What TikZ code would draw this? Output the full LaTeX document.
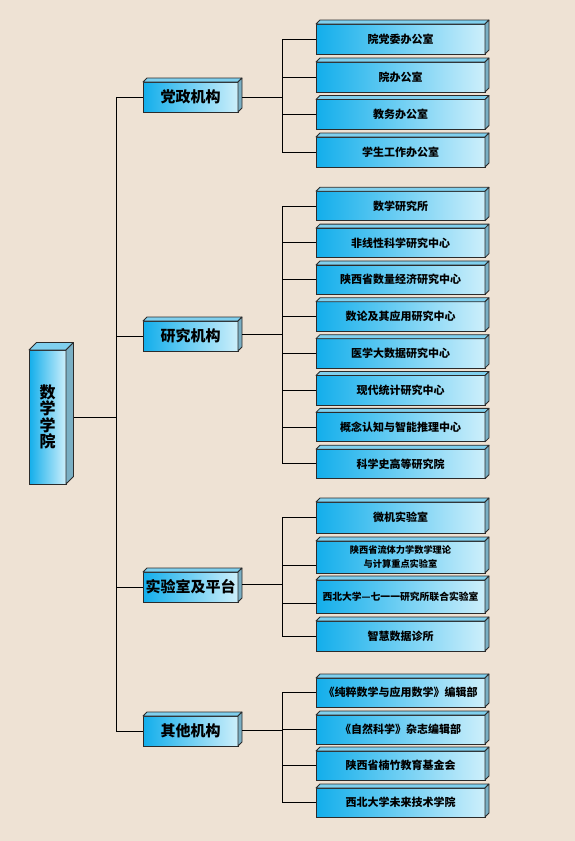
\documentclass[tikz,border=0pt]{standalone}
\usepackage{fontspec}
\setmainfont{Noto Sans CJK SC}
\usetikzlibrary{calc}
\definecolor{bg}{HTML}{EEE2D4}
\definecolor{fl}{HTML}{12AEEB}
\definecolor{fr}{HTML}{CDEFFB}
\definecolor{topc}{HTML}{80D0EE}
\definecolor{sidec}{HTML}{7AAFC4}
\definecolor{edgec}{HTML}{2B2B2B}
\newcommand\cubefaces[2]{%
  \filldraw[topface] (#1.north west) -- ++(#2pt,#2pt) -- ([shift={(#2pt,#2pt)}]#1.north east) -- (#1.north east) -- cycle;
  \filldraw[sideface] (#1.north east) -- ++(#2pt,#2pt) -- ([shift={(#2pt,#2pt)}]#1.south east) -- (#1.south east) -- cycle;}
\begin{document}
\begin{tikzpicture}[x=1pt,y=-1pt,
  front/.style={draw=edgec, line width=0.8pt, left color=fl, right color=fr, inner sep=0pt, outer sep=0pt,
    font=\bfseries\fontsize{11}{13}\selectfont, align=center, text=black},
  l2/.style={front, minimum width=169pt, minimum height=29.5pt},
  l1/.style={front, minimum width=95pt, minimum height=30pt, font=\bfseries\fontsize{15}{17}\selectfont},
  topface/.style={draw=edgec, line width=0.8pt, fill=topc, line join=round},
  sideface/.style={draw=edgec, line width=0.8pt, fill=sidec, line join=round},
  link/.style={line width=1pt, black}]
\useasboundingbox[fill=bg] (0,0) rectangle (575,841);

% root
\node[front, minimum width=37pt, minimum height=134pt, font=\bfseries\fontsize{16}{16.5}\selectfont] (root) at (47.5,417) {数\\学\\学\\院};
\cubefaces{root}{7.5}

% level 1
\node[l1] (g1) at (190.5,97) {党政机构};
\node[l1] (g2) at (190.5,336) {研究机构};
\node[l1] (g3) at (190.5,587) {实验室及平台};
\node[l1] (g4) at (190.5,731) {其他机构};
\foreach \n in {g1,g2,g3,g4} {\cubefaces{\n}{4}}

% group 1
\foreach [count=\i] \t/\y in {院党委办公室/39, 院办公室/77, 教务办公室/114.5, 学生工作办公室/152} {
  \node[l2, minimum height=30pt] (a\i) at (400.5,\y) {\t};
  \cubefaces{a\i}{4}
}
% group 2
\foreach [count=\i] \t in {数学研究所, 非线性科学研究中心, 陕西省数量经济研究中心, 数论及其应用研究中心,
  医学大数据研究中心, 现代统计研究中心, 概念认知与智能推理中心, 科学史高等研究院} {
  \node[l2] (r\i) at (400.5,{206+36.85*(\i-1)}) {\t};
  \cubefaces{r\i}{4}
}
% group 3
\node[l2, minimum height=31pt] (b1) at (400.5,517.5) {微机实验室};
\node[l2, minimum height=32pt, font=\bfseries\fontsize{9.2}{14}\selectfont] (b2) at (400.5,557) {陕西省流体力学数学理论\\与计算重点实验室};
\node[l2, minimum height=33pt, font=\bfseries\fontsize{9.8}{12}\selectfont] (b3) at (400.5,596.5) {西北大学—七一一研究所联合实验室};
\node[l2, minimum height=30pt] (b4) at (400.5,636) {智慧数据诊所};
\foreach \n in {b1,b2,b3,b4} {\cubefaces{\n}{4}}
% group 4
\foreach [count=\i] \t/\y in {《纯粹数学与应用数学》编辑部/692.5, 《自然科学》杂志编辑部/729.5, 陕西省楠竹教育基金会/765.5, 西北大学未来技术学院/802.5} {
  \node[l2, minimum height=29pt] (c\i) at (400.5,\y) {\t};
  \cubefaces{c\i}{4}
}

% connectors
\coordinate (T) at (116,417);
\draw[link] ([xshift=7.5pt]root.east) -- (T);
\foreach \n in {g1,g2,g3,g4} {\draw[link] (T) |- (\n.west);}

\coordinate (J1) at (282,97);
\coordinate (J2) at (282,334);
\coordinate (J3) at (282,584);
\coordinate (J4) at (282,730);
\draw[link] ($(J1 -| g1.east)+(4pt,0)$) -- (J1);
\draw[link] ($(J2 -| g2.east)+(4pt,0)$) -- (J2);
\draw[link] ($(J3 -| g3.east)+(4pt,0)$) -- (J3);
\draw[link] ($(J4 -| g4.east)+(4pt,0)$) -- (J4);
\foreach \i in {1,...,4} {\draw[link] (J1) |- (a\i.west);}
\foreach \i in {1,...,8} {\draw[link] (J2) |- (r\i.west);}
\draw[link] (J3) |- (b1.west);
\draw[link] (J3) |- ([yshift=-8pt]b2.west);
\draw[link] (J3) |- ([yshift=-6.5pt]b3.west);
\draw[link] (J3) |- (b4.west);
\foreach \i in {1,...,4} {\draw[link] (J4) |- (c\i.west);}
\end{tikzpicture}
\end{document}
